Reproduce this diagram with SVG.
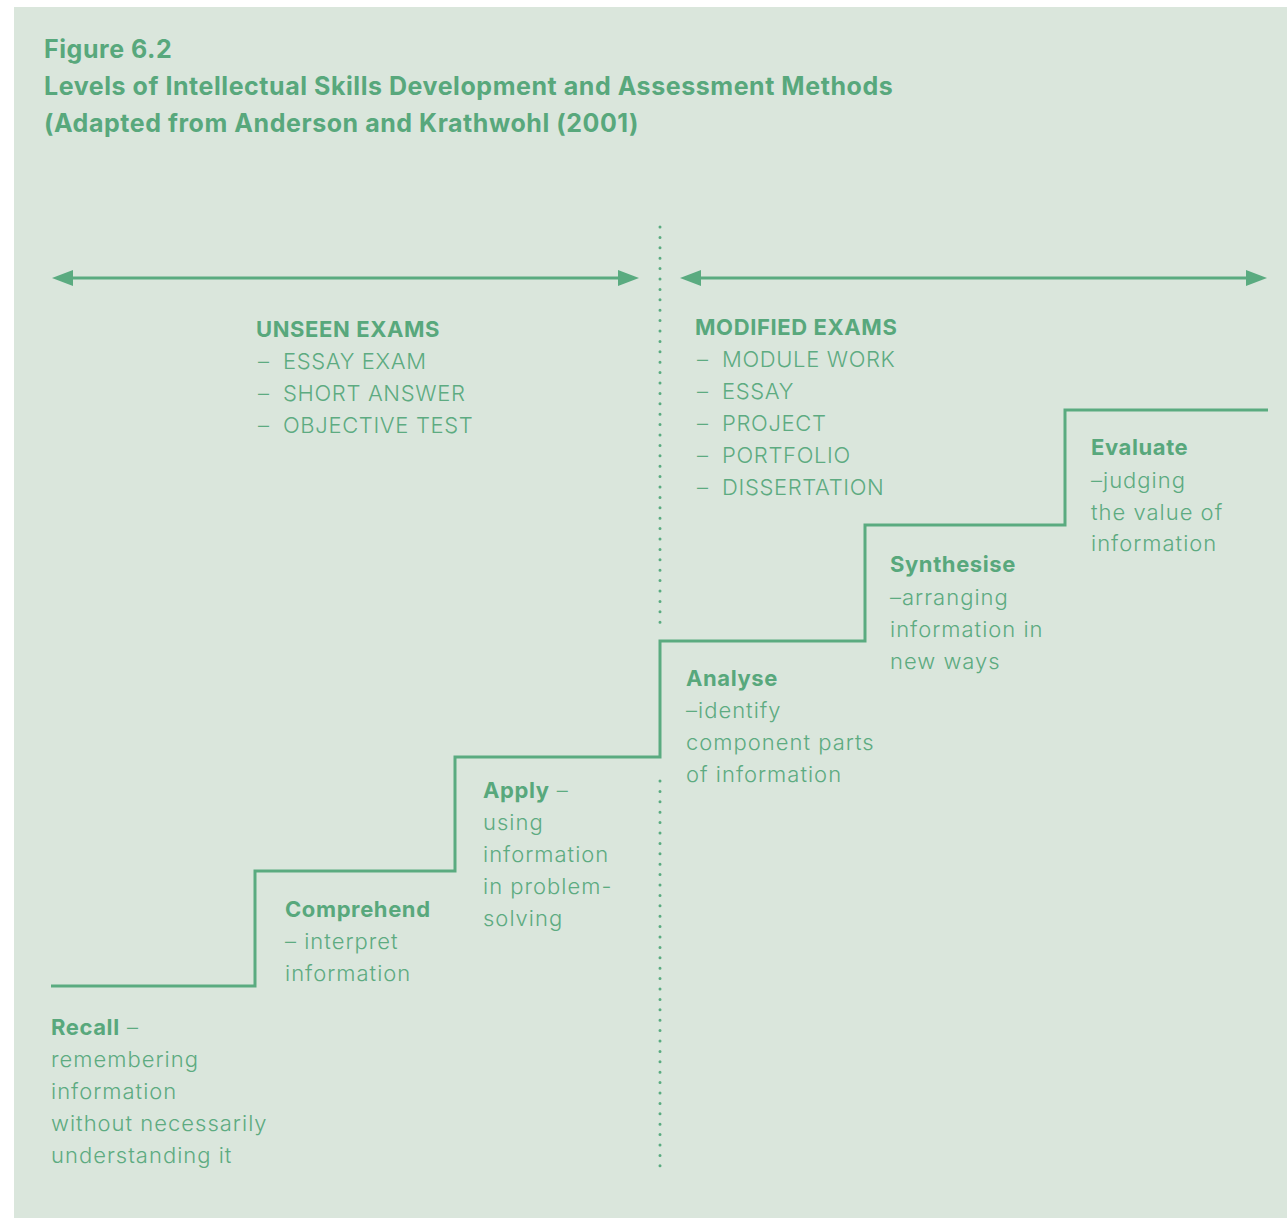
<svg xmlns="http://www.w3.org/2000/svg" width="1287" height="1218" viewBox="0 0 1287 1218">
<defs>
<style>
.bg{fill:#dae6dc}
.ln{fill:none;stroke:#5aab80;stroke-width:3}
.dot{fill:none;stroke:#5aab80;stroke-width:3;stroke-linecap:round;stroke-dasharray:0 10.4}
.t{font-family:Inter,"Liberation Sans",sans-serif;fill:#58a87c}
.title{font-size:25px;font-weight:700;letter-spacing:0.55px}
.h{font-size:22px;font-weight:700;letter-spacing:0.6px}
.b{font-size:22px;font-weight:300;fill:#5dab81;letter-spacing:1px}
.c{font-size:22px;font-weight:300;fill:#5dab81;letter-spacing:0.65px}
</style>
<marker id="ah" markerUnits="userSpaceOnUse" markerWidth="24" markerHeight="18" refX="1" refY="8" orient="auto-start-reverse" viewBox="0 0 24 18">
<path d="M0,0 L21,8 L0,16 Z" fill="#5aab80"/>
</marker>
</defs>
<rect class="bg" x="14" y="7" width="1273" height="1211"/>
<g id="title" class="t title">
<text x="44" y="58">Figure 6.2</text>
<text x="44" y="95">Levels of Intellectual Skills Development and Assessment Methods</text>
<text x="44" y="132">(Adapted from Anderson and Krathwohl (2001)</text>
</g>
<g id="connectors">
<line class="ln" x1="72" y1="278" x2="619" y2="278" marker-start="url(#ah)" marker-end="url(#ah)"/>
<line class="ln" x1="700" y1="278" x2="1247" y2="278" marker-start="url(#ah)" marker-end="url(#ah)"/>
<line class="dot" x1="660" y1="227" x2="660" y2="623"/>
<line class="dot" x1="660" y1="781" x2="660" y2="1168"/>
<path class="ln" d="M51,986 H255 V871 H455 V757 H660 V641 H865 V525 H1065 V410 H1268"/>
</g>
<g id="unseen" class="t">
<text class="h" x="256" y="337">UNSEEN EXAMS</text>
<text class="c" x="258" y="369">–</text><text class="c" x="283" y="369">ESSAY EXAM</text>
<text class="c" x="258" y="401">–</text><text class="c" x="283" y="401">SHORT ANSWER</text>
<text class="c" x="258" y="433">–</text><text class="c" x="283" y="433">OBJECTIVE TEST</text>
</g>
<g id="modified" class="t">
<text class="h" x="695" y="335">MODIFIED EXAMS</text>
<text class="c" x="697" y="367">–</text><text class="c" x="722" y="367">MODULE WORK</text>
<text class="c" x="697" y="399">–</text><text class="c" x="722" y="399">ESSAY</text>
<text class="c" x="697" y="431">–</text><text class="c" x="722" y="431">PROJECT</text>
<text class="c" x="697" y="463">–</text><text class="c" x="722" y="463">PORTFOLIO</text>
<text class="c" x="697" y="495">–</text><text class="c" x="722" y="495">DISSERTATION</text>
</g>
<g id="recall" class="t">
<text x="51" y="1035"><tspan class="h">Recall</tspan><tspan class="b"> –</tspan></text>
<text class="b" x="51" y="1067">remembering</text>
<text class="b" x="51" y="1099">information</text>
<text class="b" x="51" y="1131">without necessarily</text>
<text class="b" x="51" y="1163">understanding it</text>
</g>
<g id="comprehend" class="t">
<text class="h" x="285" y="917">Comprehend</text>
<text class="b" x="285" y="949">– interpret</text>
<text class="b" x="285" y="981">information</text>
</g>
<g id="apply" class="t">
<text x="483" y="798"><tspan class="h">Apply</tspan><tspan class="b"> –</tspan></text>
<text class="b" x="483" y="830">using</text>
<text class="b" x="483" y="862">information</text>
<text class="b" x="483" y="894">in problem-</text>
<text class="b" x="483" y="926">solving</text>
</g>
<g id="analyse" class="t">
<text class="h" x="686" y="686">Analyse</text>
<text class="b" x="686" y="718">–identify</text>
<text class="b" x="686" y="750">component parts</text>
<text class="b" x="686" y="782">of information</text>
</g>
<g id="synthesise" class="t">
<text class="h" x="890" y="572">Synthesise</text>
<text class="b" x="890" y="605">–arranging</text>
<text class="b" x="890" y="637">information in</text>
<text class="b" x="890" y="669">new ways</text>
</g>
<g id="evaluate" class="t">
<text class="h" x="1091" y="455">Evaluate</text>
<text class="b" x="1091" y="488">–judging</text>
<text class="b" x="1091" y="520">the value of</text>
<text class="b" x="1091" y="551">information</text>
</g>
</svg>
